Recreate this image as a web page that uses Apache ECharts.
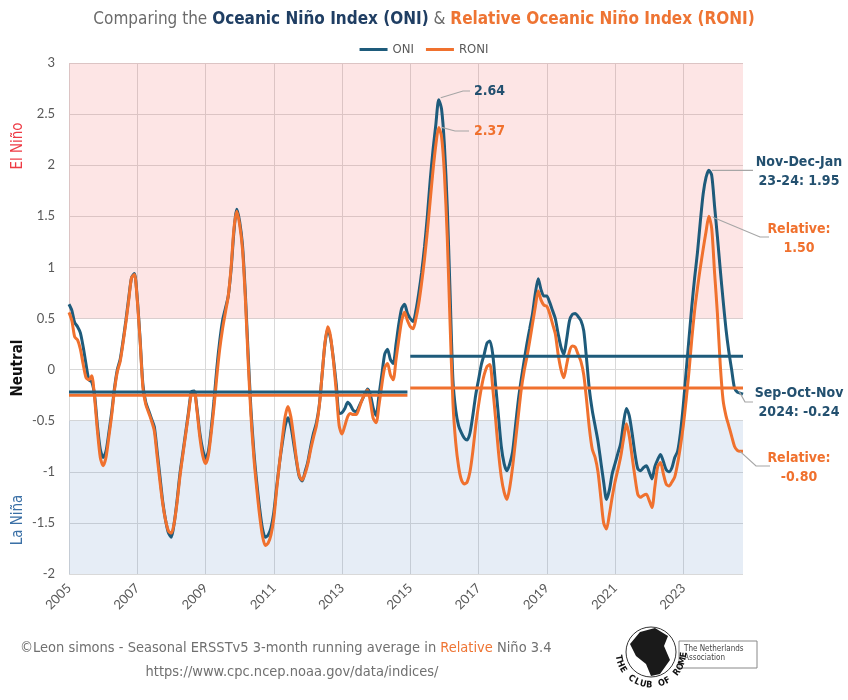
<!DOCTYPE html>
<html>
<head>
<meta charset="utf-8">
<script src="https://cdn.jsdelivr.net/npm/echarts@6/dist/echarts.min.js"></script>
<style>
html,body{margin:0;padding:0;background:#fff;}
#main{width:848px;height:700px;}
</style>
</head>
<body>
<div id="main"></div>
<script>
// ---- DATA ----
const seasons = ['DJF','JFM','FMA','MAM','AMJ','MJJ','JJA','JAS','ASO','SON','OND','NDJ'];
const startYear = 2005;
const tickYears = ['2005','2007','2009','2011','2013','2015','2017','2019','2021','2023'];
const yTicks = [-2,-1.5,-1,-0.5,0,0.5,1,1.5,2,2.5,3];

const oni = [
 0.64, 0.58, 0.46, 0.42, 0.36, 0.22, 0.05,-0.10,-0.12,-0.25,-0.55,-0.78, // 2005
-0.86,-0.80,-0.62,-0.42,-0.18, 0.00, 0.10, 0.28, 0.48, 0.70, 0.90, 0.94, // 2006
 0.70, 0.30,-0.15,-0.32,-0.40,-0.48,-0.56,-0.80,-1.05,-1.30,-1.48,-1.60, // 2007
-1.64,-1.50,-1.28,-1.02,-0.82,-0.62,-0.42,-0.22,-0.21,-0.38,-0.62,-0.78, // 2008
-0.87,-0.80,-0.58,-0.30, 0.02, 0.28, 0.48, 0.60, 0.72, 0.98, 1.35, 1.57, // 2009
 1.45, 1.22, 0.75, 0.15,-0.40,-0.80,-1.10,-1.35,-1.55,-1.64,-1.62,-1.55, // 2010
-1.40,-1.15,-0.92,-0.72,-0.55,-0.47,-0.55,-0.72,-0.90,-1.05,-1.09,-1.00, // 2011
-0.90,-0.75,-0.62,-0.52,-0.35,-0.05, 0.25, 0.40, 0.30, 0.10,-0.15,-0.43, // 2012
-0.42,-0.38,-0.32,-0.35,-0.40,-0.41,-0.36,-0.30,-0.24,-0.19,-0.25,-0.38, // 2013
-0.45,-0.25,-0.05, 0.15, 0.20, 0.10, 0.06, 0.25, 0.45, 0.60, 0.64, 0.55, // 2014
 0.50, 0.47, 0.58, 0.75, 0.95, 1.20, 1.50, 1.85, 2.15, 2.40, 2.64, 2.55, // 2015
 2.20, 1.60, 0.75,-0.10,-0.40,-0.55,-0.62,-0.67,-0.69,-0.62,-0.45,-0.25, // 2016
-0.10, 0.05, 0.15, 0.26, 0.28, 0.15,-0.15,-0.45,-0.75,-0.92,-0.99,-0.92, // 2017
-0.80,-0.55,-0.30,-0.10, 0.08, 0.25, 0.40, 0.55, 0.75, 0.89, 0.78, 0.72, // 2018
 0.72, 0.66, 0.58, 0.50, 0.35, 0.22, 0.15, 0.30, 0.48, 0.54, 0.55, 0.52, // 2019
 0.48, 0.38, 0.10,-0.20,-0.40,-0.55,-0.70,-0.90,-1.10,-1.27,-1.18,-1.02, // 2020
-0.92,-0.82,-0.72,-0.52,-0.38,-0.45,-0.62,-0.82,-0.97,-0.99,-0.96,-0.94, // 2021
-1.00,-1.07,-0.95,-0.88,-0.83,-0.90,-0.98,-1.00,-0.96,-0.86,-0.80,-0.62, // 2022
-0.35,-0.02, 0.30, 0.62, 0.90, 1.15, 1.45, 1.72, 1.88, 1.95, 1.90, 1.60, // 2023
 1.30, 0.98, 0.68, 0.40, 0.18, 0.00,-0.18,-0.22,-0.23,-0.24              // 2024
];

const roni = [
 0.56, 0.48, 0.32, 0.29, 0.20, 0.05,-0.08,-0.10,-0.06,-0.28,-0.60,-0.86, // 2005
-0.94,-0.86,-0.66,-0.45,-0.20,-0.02, 0.08, 0.26, 0.46, 0.68, 0.90, 0.93, // 2006
 0.68, 0.28,-0.18,-0.34,-0.42,-0.50,-0.60,-0.85,-1.10,-1.32,-1.48,-1.58, // 2007
-1.60,-1.50,-1.30,-1.05,-0.84,-0.64,-0.44,-0.24,-0.22,-0.40,-0.66,-0.84, // 2008
-0.92,-0.84,-0.62,-0.36,-0.06, 0.20, 0.40, 0.56, 0.72, 1.00, 1.38, 1.55, // 2009
 1.42, 1.18, 0.70, 0.08,-0.46,-0.86,-1.16,-1.42,-1.62,-1.72,-1.70,-1.62, // 2010
-1.46,-1.18,-0.92,-0.68,-0.46,-0.36,-0.46,-0.66,-0.88,-1.04,-1.08,-1.02, // 2011
-0.92,-0.78,-0.66,-0.55,-0.36,-0.05, 0.26, 0.42, 0.32, 0.08,-0.22,-0.55, // 2012
-0.63,-0.55,-0.46,-0.43,-0.44,-0.44,-0.38,-0.30,-0.24,-0.20,-0.32,-0.48, // 2013
-0.52,-0.35,-0.15, 0.02, 0.06,-0.05,-0.10, 0.10, 0.30, 0.48, 0.56, 0.48, // 2014
 0.42, 0.40, 0.50, 0.65, 0.85, 1.08, 1.35, 1.65, 1.95, 2.20, 2.37, 2.28, // 2015
 1.92, 1.30, 0.45,-0.32,-0.72,-0.95,-1.08,-1.12,-1.10,-1.00,-0.80,-0.55, // 2016
-0.35,-0.18,-0.05, 0.03, 0.05,-0.18,-0.48,-0.80,-1.05,-1.20,-1.27,-1.15, // 2017
-0.95,-0.70,-0.45,-0.20,-0.02, 0.12, 0.28, 0.45, 0.62, 0.77, 0.68, 0.63, // 2018
 0.62, 0.55, 0.45, 0.35, 0.15, 0.00,-0.08, 0.05, 0.18, 0.23, 0.22, 0.15, // 2019
 0.08,-0.05,-0.30,-0.58,-0.78,-0.86,-1.00,-1.25,-1.50,-1.56,-1.42,-1.25, // 2020
-1.10,-0.98,-0.85,-0.68,-0.53,-0.65,-0.85,-1.05,-1.22,-1.25,-1.23,-1.22, // 2021
-1.28,-1.35,-1.15,-0.95,-0.91,-1.02,-1.12,-1.14,-1.10,-1.05,-0.92,-0.75, // 2022
-0.55,-0.30,-0.02, 0.30, 0.58, 0.80, 1.00, 1.18, 1.35, 1.50, 1.38, 0.95, // 2023
 0.55, 0.05,-0.30,-0.45,-0.55,-0.65,-0.75,-0.79,-0.80,-0.80              // 2024
];

// period means: [first index, last index, value]
const oniMeans  = [[0,119,-0.22],[120,237,0.13]];
const roniMeans = [[0,119,-0.25],[120,237,-0.18]];

// phase bands
const bands = [
  {from:0.5, to:3, color:'rgba(240,80,80,0.15)'},
  {from:-2, to:-0.5, color:'rgba(80,130,190,0.14)'}
];

// ---- BUILD ----
const cats = [];
for (let i = 0; i < oni.length; i++) {
  cats.push(seasons[i % 12] + ' ' + (startYear + Math.floor(i / 12)));
}
const ONI_C = '#1E5B7B', RONI_C = '#F0712E', NAVY = '#23506F';
const NARROW = '"Liberation Sans Narrow","DejaVu Sans Condensed",sans-serif';

function meanSeries(m, color, z) {
  return m.map(p => ({
    type:'line', data:[[cats[p[0]], p[2]], [cats[p[1]], p[2]]],
    symbol:'none', lineStyle:{color:color, width:3}, z:z, silent:true, animation:false
  }));
}

const chart = echarts.init(document.getElementById('main'), null, {renderer:'canvas'});
const option = {
  animation:false,
  title:{
    left:'center', top:6,
    text:'{g|Comparing the }{b|Oceanic Niño Index (ONI)}{g| & }{o|Relative Oceanic Niño Index (RONI)}',
    textStyle:{
      fontWeight:'normal',
      rich:{
        g:{color:'#6b6b6b', fontSize:17, fontWeight:'normal', fontFamily:NARROW},
        b:{color:'#1F3E63', fontSize:17, fontWeight:'bold', fontFamily:NARROW},
        o:{color:'#EE7433', fontSize:17, fontWeight:'bold', fontFamily:NARROW}
      }
    }
  },
  legend:{
    top:38, left:'center', itemWidth:28, itemHeight:3, itemGap:12,
    icon:'rect',
    textStyle:{color:'#595959', fontSize:13, fontFamily:NARROW},
    data:['ONI','RONI']
  },
  grid:{left:69, right:105, top:63, bottom:126},
  xAxis:{
    type:'category', data:cats, boundaryGap:false,
    axisLine:{show:false}, axisTick:{show:false},
    axisLabel:{interval:23, rotate:45, color:'#595959', fontSize:13, fontFamily:'Lato', margin:12,
      formatter:v => v.slice(-4)},
    splitLine:{show:true, interval:23, lineStyle:{color:'#D9D9D9', width:1}}
  },
  yAxis:{
    type:'value', min:yTicks[0], max:yTicks[yTicks.length-1], interval:0.5,
    axisLine:{show:false}, axisTick:{show:false},
    axisLabel:{color:'#595959', fontSize:13, fontFamily:'Lato', margin:14},
    splitLine:{lineStyle:{color:'#D9D9D9', width:1}}
  },
  series:[
    {type:'line', data:[], z:1, silent:true,
     markArea:{silent:true, data:bands.map(b => [{yAxis:b.from, itemStyle:{color:b.color}}, {yAxis:b.to}])}},
    {name:'ONI', type:'line', data:oni, symbol:'none', smooth:0.25, z:4,
     lineStyle:{color:ONI_C, width:3}, itemStyle:{color:ONI_C}},
    {name:'RONI', type:'line', data:roni, symbol:'none', smooth:0.25, z:5,
     lineStyle:{color:RONI_C, width:3}, itemStyle:{color:RONI_C}},
    ...meanSeries(roniMeans, RONI_C, 6),
    ...meanSeries(oniMeans, ONI_C, 7)
  ]
};
chart.setOption(option);

// ---- ANNOTATIONS (anchored on data through the axes) ----
function px(i, v) { return chart.convertToPixel({gridIndex:0}, [cats[i], v]); }
function argmax(arr, a, b) { let k = a; for (let i = a; i <= b; i++) if (arr[i] > arr[k]) k = i; return k; }
const iO15 = argmax(oni, 100, 160), iR15 = argmax(roni, 100, 160);
const iO23 = argmax(oni, 200, oni.length-1), iR23 = argmax(roni, 200, roni.length-1);
const iLast = oni.length - 1;
const pO15 = px(iO15, oni[iO15]), pR15 = px(iR15, roni[iR15]);
const pO23 = px(iO23, oni[iO23]), pR23 = px(iR23, roni[iR23]);
const pOL = px(iLast, oni[iLast]), pRL = px(iLast, roni[iLast]);
const lineC = '#A6A6A6';
function conn(points) {
  return {type:'polyline', shape:{points:points}, style:{stroke:lineC, lineWidth:1.2, fill:null}, z:50};
}
function txt(x, y, text, color, align) {
  return {type:'text', x:x, y:y, z:50,
    style:{text:text, fill:color, font:'bold 14px ' + NARROW, align:align || 'center', verticalAlign:'middle'}};
}
const annX = 799;
const g = [
  conn([[pO15[0]+2, pO15[1]-2], [463, 91], [470, 91]]),
  txt(474, 91, oni[iO15].toFixed(2), NAVY, 'left'),
  conn([[pR15[0]+3, pR15[1]], [455, 131], [469, 131]]),
  txt(474, 131, roni[iR15].toFixed(2), RONI_C, 'left'),
  conn([[pO23[0]+3, pO23[1]], [753, pO23[1]]]),
  txt(annX, 162, 'Nov-Dec-Jan', NAVY),
  txt(annX, 181, '23-24: ' + oni[iO23].toFixed(2), NAVY),
  conn([[pR23[0]+4, pR23[1]+1], [760, 237], [769, 237]]),
  txt(annX, 229, 'Relative:', RONI_C),
  txt(annX, 248, roni[iR23].toFixed(2), RONI_C),
  conn([[pOL[0]-4, pOL[1]-3], [745, 402], [753, 402]]),
  txt(annX, 393, 'Sep-Oct-Nov', NAVY),
  txt(annX, 412, '2024: ' + oni[iLast].toFixed(2), NAVY),
  conn([[pRL[0]-3, pRL[1]], [756, 466], [770, 466]]),
  txt(annX, 458, 'Relative:', RONI_C),
  txt(annX, 477, roni[iLast].toFixed(2), RONI_C),
  // phase labels
  {type:'text', x:18, y:146, rotation:Math.PI/2, z:50,
   style:{text:'El Niño', fill:'#EE3B45', font:'15px ' + NARROW, align:'center', verticalAlign:'middle'}},
  {type:'text', x:18, y:368, rotation:Math.PI/2, z:50,
   style:{text:'Neutral', fill:'#111', font:'bold 15px ' + NARROW, align:'center', verticalAlign:'middle'}},
  {type:'text', x:18, y:520, rotation:Math.PI/2, z:50,
   style:{text:'La Niña', fill:'#3B70A6', font:'15px ' + NARROW, align:'center', verticalAlign:'middle'}},
  // footer
  {type:'text', x:20, y:648, z:50,
   style:{rich:{g:{fill:'#707070', font:'14.5px ' + NARROW}, o:{fill:'#EE7433', font:'14.5px ' + NARROW}},
          text:'{g|©Leon simons - Seasonal ERSSTv5 3-month running average in }{o|Relative}{g| Niño 3.4}',
          verticalAlign:'middle'}},
  {type:'text', x:292, y:672, z:50,
   style:{text:'https://www.cpc.ncep.noaa.gov/data/indices/', fill:'#707070', font:'14.5px ' + NARROW,
          align:'center', verticalAlign:'middle'}},
  // logo
  {type:'circle', shape:{cx:651, cy:652, r:25}, style:{fill:'#fff', stroke:'#333', lineWidth:1}, z:50},
  {type:'polygon', shape:{points:[[640,632],[655,628],[668,636],[664,646],[670,660],[660,674],[651,676],[646,664],[636,656],[630,644]]},
   style:{fill:'#1a1a1a'}, z:51},
  {type:'rect', shape:{x:679, y:641, width:78, height:27}, style:{fill:'#fff', stroke:'#888', lineWidth:1}, z:50},
  {type:'text', x:684, y:649, z:51, style:{text:'The Netherlands', fill:'#444', font:'8px ' + NARROW, verticalAlign:'middle'}},
  {type:'text', x:684, y:658, z:51, style:{text:'Association', fill:'#444', font:'8px ' + NARROW, verticalAlign:'middle'}}
];
// "THE CLUB OF ROME" on an arc below the globe
const logoText = 'THE CLUB OF ROME';
for (let k = 0; k < logoText.length; k++) {
  const th = (190 + k * 165 / (logoText.length - 1)) * Math.PI / 180;
  const r = 33;
  g.push({type:'text', x:651 + r * Math.cos(th), y:652 - r * Math.sin(th), z:51,
    rotation:th + Math.PI / 2,
    style:{text:logoText[k], fill:'#111', font:'bold 9px ' + NARROW, align:'center', verticalAlign:'middle'}});
}
chart.setOption({graphic:g});
</script>
</body>
</html>
